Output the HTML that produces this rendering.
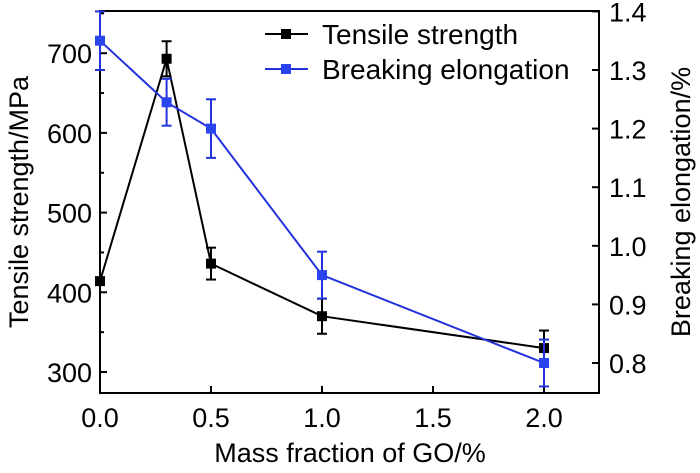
<!DOCTYPE html>
<html><head><meta charset="utf-8"><style>
html,body{margin:0;padding:0;background:#fff;}
svg text{font-family:"Liberation Sans",Arial,sans-serif;fill:#000;}
</style></head><body>
<svg id="chart" width="700" height="468" viewBox="0 0 700 468">
<g id="axes"></g>
<g id="marks"></g>
<g id="legend">
  <line x1="265" y1="34" x2="308" y2="34" stroke="#000" stroke-width="2"/>
  <rect x="281" y="29" width="10" height="10" fill="#000"/>
  <text x="322" y="44" font-size="28">Tensile strength</text>
  <line x1="265" y1="69" x2="308" y2="69" stroke="#2233dd" stroke-width="2"/>
  <rect x="281" y="64" width="10" height="10" fill="#2a44f0"/>
  <text x="322" y="79" font-size="28">Breaking elongation</text>
</g>
<text x="350" y="462" font-size="27" text-anchor="middle">Mass fraction of GO/%</text>
<text transform="translate(28,202) rotate(-90)" font-size="27" text-anchor="middle">Tensile strength/MPa</text>
<text transform="translate(690,202) rotate(-90)" font-size="27" text-anchor="middle">Breaking elongation/%</text>
</svg>
<script>
const xValues=[0,0.3,0.5,1.0,2.0];
const tensile=[414,693,436,370,330];
const tensileErr=[4,22,20,22,22];
const elong=[1.35,1.245,1.20,0.95,0.80];
const elongErr=[0.05,0.04,0.05,0.04,0.04];
const xTicks=["0.0","0.5","1.0","1.5","2.0"];
const leftTicks=[300,400,500,600,700];
const rightTicks=["0.8","0.9","1.0","1.1","1.2","1.3","1.4"];
const L=100,R=599,T=11,B=393;
const sx=v=>L+v*222;
const sy=v=>372-(v-300)*0.797;
const sy2=v=>363-(v-0.8)*586;
const NS="http://www.w3.org/2000/svg";
function mk(tag,attrs,parent){const e=document.createElementNS(NS,tag);for(const k in attrs)e.setAttribute(k,attrs[k]);parent.appendChild(e);return e;}
const axes=document.getElementById('axes'),marks=document.getElementById('marks');
const frame=mk('rect',{x:L,y:T,width:R-L,height:B-T,fill:'none',stroke:'#000','stroke-width':2},axes);


xTicks.forEach(t=>{const x=sx(parseFloat(t));
  mk('line',{x1:x,y1:B,x2:x,y2:B-7,stroke:'#000','stroke-width':2},axes);
  const tx=mk('text',{x:x,y:B+34,'font-size':27,'text-anchor':'middle'},axes);tx.textContent=t;
  
  
});
for(let v=250;v<=750;v+=50){const y=sy(v);if(y<T||y>B)continue;
  mk('line',{x1:L,y1:y,x2:L+(v%100==0?7:4),y2:y,stroke:'#000','stroke-width':2},axes);}
leftTicks.forEach(v=>{const tx=mk('text',{x:L-8,y:sy(v)+10,'font-size':27,'text-anchor':'end'},axes);tx.textContent=v;
  
  
});
rightTicks.forEach(t=>{const y=sy2(parseFloat(t));
  mk('line',{x1:R,y1:y,x2:R-7,y2:y,stroke:'#000','stroke-width':2},axes);
  const tx=mk('text',{x:R+10,y:y+10,'font-size':27},axes);tx.textContent=t;
  
  
});
function series(vals,errs,scale,lc,mc,name){
  const g=mk('g',{},marks);
  
  
  mk('polyline',{points:xValues.map((x,i)=>sx(x)+','+scale(vals[i])).join(' '),fill:'none',stroke:lc,'stroke-width':2},g);
  xValues.forEach((x,i)=>{const cx=sx(x),y1=scale(vals[i]+errs[i]),y2=scale(vals[i]-errs[i]);
    mk('line',{x1:cx,y1:y1,x2:cx,y2:y2,stroke:lc,'stroke-width':2},g);
    mk('line',{x1:cx-5,y1:y1,x2:cx+5,y2:y1,stroke:lc,'stroke-width':2},g);
    mk('line',{x1:cx-5,y1:y2,x2:cx+5,y2:y2,stroke:lc,'stroke-width':2},g);
    const r=mk('rect',{x:cx-5,y:scale(vals[i])-5,width:10,height:10,fill:mc},g);
    
    
  });
}
series(tensile,tensileErr,sy,'#000','#000','tensile-series');
series(elong,elongErr,sy2,'#2233dd','#2a44f0','elongation-series');
</script>
</body></html>
